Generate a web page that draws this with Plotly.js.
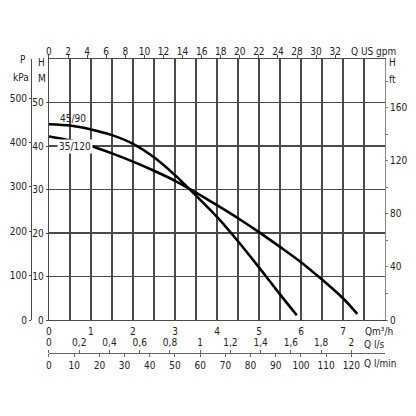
<!DOCTYPE html>
<html>
<head>
<meta charset="utf-8">
<script src="https://cdn.plot.ly/plotly-3.0.1.min.js"></script>
<style>
  html, body { margin: 0; padding: 0; background: #fff; }
  #pump-graph { width: 416px; height: 416px; }
</style>
</head>
<body>
<div id="pump-graph"></div>
<script>
// pump curves, Q in m3/h, H in m
let q4590 = [0, 0.5, 1, 1.5, 2, 2.5, 3, 3.5, 4, 4.5, 5, 5.5, 5.9];
let h4590 = [45.0, 44.7, 43.8, 42.5, 40.5, 37.4, 33.3, 28.6, 23.7, 18.1, 12.1, 5.9, 1.1];
let q35120 = [0, 0.5, 1, 1.5, 2, 2.5, 3, 3.5, 4, 4.5, 5, 5.5, 6, 6.5, 7, 7.34];
let h35120 = [42.2, 41.3, 40.0, 38.3, 36.4, 34.3, 32.0, 29.3, 26.4, 23.4, 20.2, 16.8, 13.3, 9.3, 5.0, 1.4];

// tick labels
let m3hTicks = [0, 1, 2, 3, 4, 5, 6, 7];
let hTicks = [0, 10, 20, 30, 40, 50];
let kpaTicks = [0, 100, 200, 300, 400, 500];
let ftTicks = [0, 40, 80, 120, 160];
let gpmTicks = [0, 2, 4, 6, 8, 10, 12, 14, 16, 18, 20, 22, 24, 26, 28, 30];
let gpmText = ['0', '2', '4', '6', '8', '10', '12', '14', '16', '18', '20', '22', '24', '28', '30', '32'];
let lsTicks = [0, 0.2, 0.4, 0.6, 0.8, 1, 1.2, 1.4, 1.6, 1.8, 2];
let lsText = ['0', '0,2', '0,4', '0,6', '0,8', '1', '1,2', '1,4', '1,6', '1,8', '2'];
let lminTicks = [0, 10, 20, 30, 40, 50, 60, 70, 80, 90, 100, 110, 120];

// unit conversions
let qMax = 8;
let hMax = 60;
let mPerKpa = 0.10197;
let mPerFt = 0.3048;
let gpmPerM3h = 4.40287;

let gridColor = '#4a4a4a';
let lineColor = '#4a4a4a';

let paperLabel = function (text, x, y, xanchor) {
    return {
        text: text, x: x, y: y, xref: 'paper', yref: 'paper',
        xanchor: xanchor || 'center', yanchor: 'middle', showarrow: false
    };
}

let makeGraph = function () {
    let curve4590 = {
        x: q4590, y: h4590, type: 'scatter', mode: 'lines',
        line: { color: '#000', width: 2.6, shape: 'spline', smoothing: 0.8 },
        hoverinfo: 'skip'
    };
    let curve35120 = {
        x: q35120, y: h35120, type: 'scatter', mode: 'lines',
        line: { color: '#000', width: 2.6, shape: 'spline', smoothing: 0.8 },
        hoverinfo: 'skip'
    };
    // empty traces so the extra axes get drawn
    let dummyA = { x: [], y: [], xaxis: 'x2', yaxis: 'y2', type: 'scatter', hoverinfo: 'skip' };
    let dummyB = { x: [], y: [], xaxis: 'x3', yaxis: 'y3', type: 'scatter', hoverinfo: 'skip' };
    let dummyC = { x: [], y: [], xaxis: 'x4', yaxis: 'y', type: 'scatter', hoverinfo: 'skip' };

    let tickFont = { size: 10, color: '#222' };

    let layout = {
        width: 416,
        height: 416,
        margin: { l: 31, r: 31, t: 59, b: 63, pad: 0 },
        paper_bgcolor: '#fff',
        plot_bgcolor: '#fff',
        showlegend: false,
        font: { family: '"Liberation Sans Narrow", "DejaVu Sans Condensed", sans-serif', size: 10, color: '#222' },
        xaxis: {
            domain: [0.0508, 1], range: [0, qMax],
            tickmode: 'array', tickvals: m3hTicks, ticks: '', ticklabelstandoff: 2,
            showgrid: true, gridcolor: gridColor, gridwidth: 1.2,
            minor: { dtick: 0.5, tick0: 0, showgrid: true, gridcolor: gridColor, gridwidth: 1.2 },
            showline: true, linecolor: lineColor, linewidth: 1.2,
            zeroline: false, tickfont: tickFont, fixedrange: true
        },
        yaxis: {
            domain: [0.1122, 1], range: [0, hMax],
            tickmode: 'array', tickvals: hTicks, ticks: 'outside', ticklen: 2, tickcolor: lineColor,
            showgrid: true, gridcolor: gridColor, gridwidth: 1.2,
            showline: true, linecolor: lineColor, linewidth: 1.2,
            zeroline: false, tickfont: tickFont, fixedrange: true
        },
        xaxis2: {
            overlaying: 'x', side: 'top', anchor: 'y', range: [0, qMax * gpmPerM3h],
            tickmode: 'array', tickvals: gpmTicks, ticktext: gpmText,
            ticks: 'outside', ticklen: 3, tickcolor: lineColor, ticklabelstandoff: -4,
            showgrid: false, showline: true, linecolor: lineColor, linewidth: 1.2,
            zeroline: false, tickfont: tickFont, fixedrange: true
        },
        xaxis3: {
            overlaying: 'x', side: 'top', anchor: 'free', position: 0, range: [0, qMax / 3.6],
            tickmode: 'array', tickvals: lsTicks, ticktext: lsText,
            ticks: 'outside', ticklen: 3, tickcolor: '#666',
            showgrid: false, showline: true, linecolor: '#666', linewidth: 1,
            zeroline: false, tickfont: tickFont, fixedrange: true
        },
        xaxis4: {
            overlaying: 'x', side: 'bottom', anchor: 'free', position: 0, range: [0, qMax / 3.6 * 60],
            tickmode: 'array', tickvals: lminTicks,
            ticks: 'outside', ticklen: 3, tickcolor: '#666',
            showgrid: false, showline: true, linecolor: '#666', linewidth: 1,
            zeroline: false, tickfont: tickFont, fixedrange: true
        },
        yaxis2: {
            overlaying: 'y', side: 'right', anchor: 'x', range: [0, hMax / mPerFt],
            tickmode: 'array', tickvals: ftTicks, ticks: 'outside', ticklen: 2, tickcolor: '#777',
            minor: { dtick: 20, tick0: 0, ticks: 'outside', ticklen: 2, tickcolor: '#777' },
            showgrid: false, showline: true, linecolor: '#888', linewidth: 1,
            zeroline: false, tickfont: tickFont, fixedrange: true
        },
        yaxis3: {
            overlaying: 'y', side: 'left', anchor: 'free', position: 0, range: [0, hMax / mPerKpa],
            tickmode: 'array', tickvals: kpaTicks, ticks: 'outside', ticklen: 2, tickcolor: lineColor,
            showgrid: false, showline: true, linecolor: lineColor, linewidth: 1.2,
            zeroline: false, tickfont: tickFont, fixedrange: true
        },
        annotations: [
            { text: '45/90', x: 0.566, y: 46.3, xref: 'x', yref: 'y', showarrow: false },
            { text: '35/120', x: 0.613, y: 40.0, xref: 'x', yref: 'y', showarrow: false, bgcolor: '#fff', borderpad: 1 },
            paperLabel('P', -0.0234, 0.999),
            paperLabel('kPa', -0.029, 0.936),
            paperLabel('H', 0.0302, 0.987),
            paperLabel('M', 0.0302, 0.934),
            paperLabel('H', 1.0198, 0.987),
            paperLabel('ft', 1.0198, 0.929),
            paperLabel('Q US gpm', 0.898, 1.025, 'left'),
            paperLabel('Qm³/h', 0.938, 0.0724, 'left'),
            paperLabel('Q l/s', 0.935, 0.0296, 'left'),
            paperLabel('Q l/min', 0.935, -0.0374, 'left')
        ]
    };

    Plotly.newPlot('pump-graph', [curve4590, curve35120, dummyA, dummyB, dummyC], layout, { staticPlot: true });
}

makeGraph();
</script>
</body>
</html>
